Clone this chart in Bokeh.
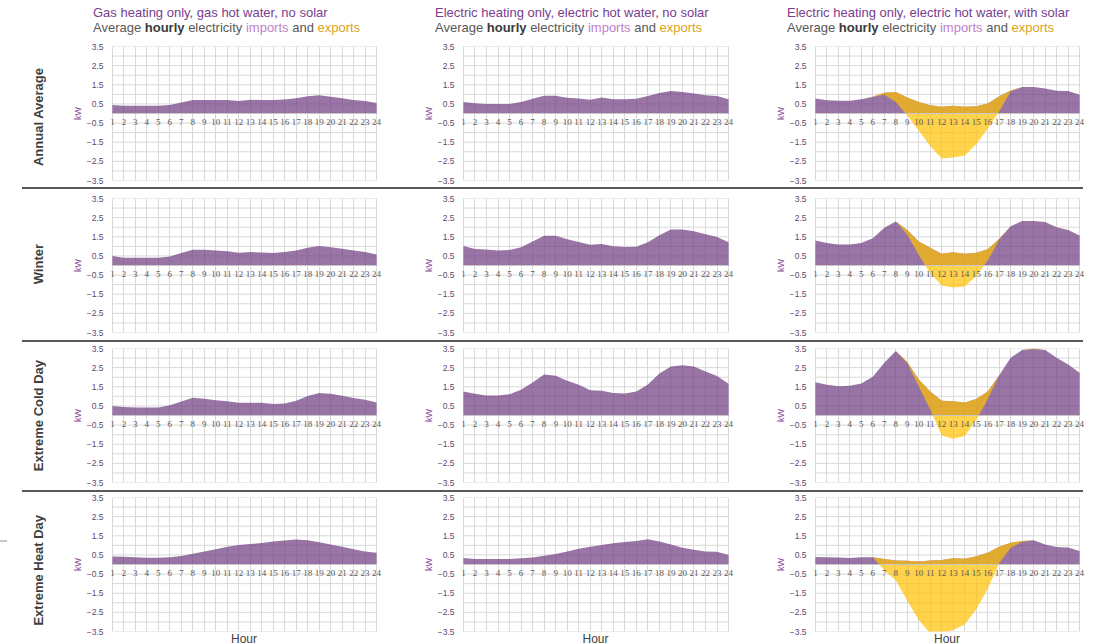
from bokeh.plotting import figure
from bokeh.models import Range1d, FixedTicker, Div, Spacer
from bokeh.layouts import column, row
from bokeh.embed import file_html
from bokeh.resources import INLINE

# ---------------- data ----------------
HOURS = list(range(1, 25))
ROW_NAMES = ["Annual Average", "Winter", "Extreme Cold Day", "Extreme Heat Day"]
COL_TITLES = ["Gas heating only, gas hot water, no solar",
              "Electric heating only, electric hot water, no solar",
              "Electric heating only, electric hot water, with solar"]
Y_TICKS = [-3.5, -2.5, -1.5, -0.5, 0.5, 1.5, 2.5, 3.5]
GRID_TICKS = [-3.5, -3.0, -2.5, -2.0, -1.5, -1.0, -0.5, 0.0, 0.5, 1.0, 1.5, 2.0, 2.5, 3.0, 3.5]

# gas heating, gas hot water, no solar (kW imports)
gas_annual = [0.45, 0.4, 0.4, 0.4, 0.4, 0.45, 0.58, 0.7, 0.7, 0.7, 0.7, 0.65,
              0.72, 0.7, 0.7, 0.73, 0.8, 0.9, 0.95, 0.88, 0.8, 0.7, 0.65, 0.55]
gas_winter = [0.49, 0.4, 0.4, 0.4, 0.4, 0.47, 0.65, 0.82, 0.82, 0.79, 0.74, 0.67,
              0.7, 0.68, 0.65, 0.7, 0.79, 0.93, 1.02, 0.95, 0.88, 0.79, 0.7, 0.58]
gas_cold = [0.5, 0.45, 0.42, 0.42, 0.42, 0.54, 0.73, 0.93, 0.88, 0.8, 0.75, 0.67,
            0.67, 0.67, 0.6, 0.63, 0.77, 1.02, 1.17, 1.14, 1.03, 0.91, 0.82, 0.68]
gas_heat = [0.42, 0.4, 0.38, 0.35, 0.35, 0.38, 0.45, 0.56, 0.68, 0.8, 0.93, 1.02,
            1.07, 1.12, 1.2, 1.25, 1.3, 1.27, 1.16, 1.05, 0.93, 0.8, 0.68, 0.62]

# electric heating, electric hot water, no solar
elec_annual = [0.6, 0.53, 0.49, 0.49, 0.49, 0.6, 0.77, 0.93, 0.93, 0.82, 0.79, 0.72,
               0.84, 0.74, 0.74, 0.77, 0.91, 1.07, 1.17, 1.12, 1.05, 0.95, 0.91, 0.75]
elec_winter = [1.02, 0.86, 0.83, 0.79, 0.81, 0.95, 1.25, 1.56, 1.56, 1.37, 1.23, 1.09,
               1.12, 1.0, 0.97, 0.98, 1.21, 1.58, 1.88, 1.88, 1.79, 1.63, 1.49, 1.21]
elec_cold = [1.25, 1.13, 1.05, 1.05, 1.11, 1.34, 1.72, 2.14, 2.07, 1.81, 1.6, 1.32,
             1.29, 1.18, 1.15, 1.25, 1.62, 2.2, 2.56, 2.63, 2.56, 2.3, 2.06, 1.66]
elec_heat = [0.34, 0.29, 0.29, 0.29, 0.29, 0.32, 0.37, 0.46, 0.55, 0.68, 0.82, 0.93,
             1.02, 1.11, 1.18, 1.23, 1.32, 1.2, 1.04, 0.88, 0.77, 0.68, 0.66, 0.5]

# electric heating, electric hot water, with solar: household use and net (use - solar)
solar_use_annual = [0.78, 0.69, 0.66, 0.67, 0.74, 0.88, 1.09, 1.12, 0.83, 0.6, 0.43, 0.35,
                    0.41, 0.35, 0.38, 0.52, 0.9, 1.2, 1.38, 1.38, 1.31, 1.19, 1.17, 0.98]
solar_net_annual = [0.78, 0.69, 0.66, 0.67, 0.74, 0.86, 0.98, 0.6, -0.1, -0.9, -1.7, -2.35,
                    -2.3, -2.2, -1.6, -0.8, 0.1, 1.15, 1.38, 1.38, 1.31, 1.19, 1.17, 0.98]
solar_use_winter = [1.31, 1.17, 1.1, 1.1, 1.17, 1.43, 1.97, 2.3, 1.86, 1.26, 0.93, 0.62,
                    0.69, 0.62, 0.66, 0.85, 1.4, 2.05, 2.32, 2.33, 2.27, 2.0, 1.86, 1.57]
solar_net_winter = [1.31, 1.17, 1.1, 1.1, 1.17, 1.43, 1.97, 2.3, 1.6, 0.55, -0.4, -1.05,
                    -1.15, -1.1, -0.55, 0.25, 1.35, 2.05, 2.32, 2.33, 2.27, 2.0, 1.86, 1.57]
solar_use_cold = [1.74, 1.61, 1.53, 1.56, 1.67, 2.02, 2.75, 3.37, 2.79, 1.88, 1.26, 0.77,
                  0.75, 0.68, 0.86, 1.26, 2.1, 3.02, 3.42, 3.5, 3.42, 3.02, 2.67, 2.23]
solar_net_cold = [1.74, 1.61, 1.53, 1.56, 1.67, 2.02, 2.75, 3.37, 2.72, 1.53, 0.3, -1.05,
                  -1.21, -1.07, -0.23, 0.85, 2.1, 3.02, 3.42, 3.46, 3.42, 3.02, 2.67, 2.23]
solar_use_heat = [0.39, 0.38, 0.36, 0.34, 0.38, 0.38, 0.29, 0.21, 0.2, 0.16, 0.21, 0.23,
                  0.32, 0.3, 0.43, 0.61, 0.93, 1.14, 1.23, 1.27, 1.05, 0.91, 0.89, 0.7]
solar_net_heat = [0.39, 0.38, 0.36, 0.34, 0.38, 0.38, -0.3, -0.82, -1.9, -2.9, -3.6, -3.6,
                  -3.42, -3.14, -2.34, -1.27, 0.07, 0.88, 1.18, 1.27, 1.05, 0.91, 0.89, 0.7]

GAS = [gas_annual, gas_winter, gas_cold, gas_heat]
ELEC = [elec_annual, elec_winter, elec_cold, elec_heat]
SOLAR_USE = [solar_use_annual, solar_use_winter, solar_use_cold, solar_use_heat]
SOLAR_NET = [solar_net_annual, solar_net_winter, solar_net_cold, solar_net_heat]

# ---------------- style / layout ----------------
PURPLE = "#6E3A80"
YELLOW = "#FFC000"
GRID = "#D9D9D9"
FONT = "Liberation Sans"
EXT = 0.6                      # room so that the hour labels 1 and 24 are not cut

LABEL_W = 56                   # column holding the row names
COL_W = [330, 352, 351]
COL_BL = [49, 70, 70]
COL_BR = [3, 3, 3]
ROW_H = [145, 148, 145, 144]
ROW_BT = [6, 9, 6, 5]
ROW_BB = [5, 5, 5, 5]
ROW_LABEL_PAD = [9, 2, 3, 12]
SEP_GAP = [2, 3, 3]
TITLE_PAD = [93, 49, 49]
HOUR_FRAME = [(112, 264), (77, 265), (77, 264)]   # (left offset, width) of the hour grid per column box


def make_panel(r, c):
    p = figure(width=COL_W[c], height=ROW_H[r],
               x_range=Range1d(HOURS[0] - EXT, HOURS[-1] + EXT), y_range=Range1d(-3.5, 3.5),
               output_backend="svg", toolbar_location=None,
               min_border_left=COL_BL[c], min_border_right=COL_BR[c],
               min_border_top=ROW_BT[r], min_border_bottom=ROW_BB[r])
    p.outline_line_color = None
    p.background_fill_color = "white"
    p.border_fill_color = "white"

    # horizontal grid lines, limited to the hour span
    p.segment(x0=HOURS[0], x1=HOURS[-1], y0=GRID_TICKS, y1=GRID_TICKS,
              line_color=GRID, line_width=1)
    p.ygrid.visible = False
    p.xgrid.ticker = FixedTicker(ticks=HOURS)
    p.xgrid.grid_line_color = GRID
    p.xgrid.grid_line_width = 1

    if c == 0:
        p.varea(x=HOURS, y1=0, y2=GAS[r], fill_color=PURPLE, fill_alpha=0.7)
    elif c == 1:
        p.varea(x=HOURS, y1=0, y2=ELEC[r], fill_color=PURPLE, fill_alpha=0.7)
    else:
        p.varea(x=HOURS, y1=0, y2=SOLAR_USE[r], fill_color=PURPLE, fill_alpha=0.7)
        p.varea(x=HOURS, y1=SOLAR_NET[r], y2=SOLAR_USE[r], fill_color=YELLOW, fill_alpha=0.7)

    # x axis crossing at zero
    xa = p.xaxis[0]
    xa.fixed_location = 0
    xa.bounds = (HOURS[0], HOURS[-1])
    xa.ticker = FixedTicker(ticks=HOURS)
    xa.major_tick_out = 0
    xa.major_tick_in = 0
    xa.minor_tick_out = 0
    xa.minor_tick_in = 0
    xa.axis_line_color = "#C8C8C8"
    xa.major_label_standoff = 5
    xa.major_label_text_font = "Liberation Serif"
    xa.major_label_text_font_size = "9px"
    xa.major_label_text_color = "#595959"

    ya = p.yaxis[0]
    ya.ticker = FixedTicker(ticks=Y_TICKS)
    ya.axis_line_color = None
    ya.major_tick_out = 0
    ya.major_tick_in = 0
    ya.minor_tick_out = 0
    ya.minor_tick_in = 0
    ya.major_label_standoff = 2
    ya.major_label_text_font = FONT
    ya.major_label_text_font_size = "8.5px"
    ya.major_label_text_color = "#5E4A6E"
    ya.axis_label = "kW"
    ya.axis_label_text_font = FONT
    ya.axis_label_text_font_size = "9px"
    ya.axis_label_text_font_style = "normal"
    ya.axis_label_text_color = "#8B4A9B"
    ya.axis_label_standoff = 1
    return p


def title_div(c):
    html = (
        f'<div style="box-sizing:border-box;padding:5px 0 0 {TITLE_PAD[c]}px;white-space:nowrap;'
        f'font-family:\'{FONT}\';font-size:13px;line-height:15px;">'
        f'<div style="color:#7A3D8F;">{COL_TITLES[c]}</div>'
        '<div style="color:#595959;">Average <b style="color:#3A3A3A;">hourly</b> electricity '
        '<span style="color:#BF7FCB;">imports</span> and '
        '<span style="color:#D9A521;">exports</span></div></div>'
    )
    return Div(text=html, width=(LABEL_W + COL_W[0]) if c == 0 else COL_W[c], height=40, margin=0)


def row_label_div(r):
    dash = ('<div style="position:absolute;left:0;top:48px;width:7px;height:2px;'
            'background:#C8C8C8;"></div>') if r == 3 else ''
    html = (
        f'<div style="position:relative;box-sizing:border-box;width:{LABEL_W}px;height:{ROW_H[r]}px;'
        f'padding-left:31px;padding-top:{ROW_LABEL_PAD[r]}px;display:flex;align-items:center;">'
        f'{dash}'
        f'<span style="writing-mode:vertical-rl;transform:rotate(180deg);white-space:nowrap;'
        f'font-family:\'{FONT}\';font-size:13px;font-weight:bold;color:#404040;line-height:16px;">'
        f'{ROW_NAMES[r]}</span></div>'
    )
    return Div(text=html, width=LABEL_W, height=ROW_H[r], margin=0)


def hour_div(c):
    left, w = HOUR_FRAME[c]
    html = (
        f'<div style="position:relative;top:-5px;margin-left:{left}px;width:{w}px;text-align:center;'
        f'font-family:\'{FONT}\';font-size:12px;line-height:12px;color:#404040;">Hour</div>'
    )
    return Div(text=html, width=(LABEL_W + COL_W[0]) if c == 0 else COL_W[c], height=8, margin=0)


def separator(gap):
    return column(Spacer(width=1075, height=gap, margin=0),
                  row(Spacer(width=22, height=2, margin=0),
                      Div(text="", width=1061, height=2, margin=0,
                          styles={"background-color": "#595959"}), spacing=0),
                  spacing=0)


items = [row(*[title_div(c) for c in range(3)], spacing=0)]
for r in range(4):
    items.append(row(row_label_div(r), *[make_panel(r, c) for c in range(3)], spacing=0))
    if r < 3:
        items.append(separator(SEP_GAP[r]))
items.append(row(*[hour_div(c) for c in range(3)], spacing=0))

layout = column(*items, spacing=0)

html = file_html(layout, INLINE, title="Hourly electricity imports and exports")
html = html.replace("<head>", "<head><style>html,body{overflow:hidden;}</style>", 1)
open("out.html", "w").write(html)
